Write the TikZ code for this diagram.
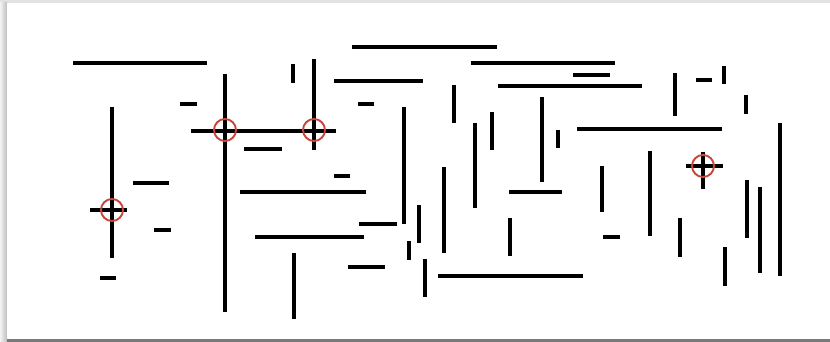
\documentclass[tikz,border=0pt]{standalone}
\usetikzlibrary{calc}
\definecolor{pgInk}{HTML}{000000}
\definecolor{pgMark}{HTML}{C8453A}
\definecolor{pgEdge}{HTML}{E2E2E2}
\definecolor{pgShade}{HTML}{BDBDBD}
\definecolor{pgFloor}{HTML}{7A7A7A}
\tikzset{pg/base/.style={x=1pt,y=-1pt,line cap=butt,line join=miter},
  pg/seg/.style={draw=pgInk,line width=3.2pt},
  pg/hit/.style={draw=pgMark,line width=1.9pt}}
\begin{document}
\begin{tikzpicture}[pg/base]
  \useasboundingbox (0,0) rectangle (830,342);
  % page on a grey desk, shadow to the left and below
  \fill[pgEdge] (0,0) rectangle (830,342);
  \shade[left color=pgEdge!40,right color=pgShade] (0,3) rectangle (7,342);
  \fill[pgFloor] (7,339) rectangle (830,342);
  \fill[white] (7,3) rectangle (830,339);
  % horizontal segments
  \foreach \y/\xa/\xb in {63/73/207,47/352/497,63/471/615,75/573/610,81/334/423,
    86/498/642,80/696/712,104/180/197,104/358/374,129/577/722,131/191/336,
    149/244/282,166/686/723,176/334/350,183/133/169,192/240/366,192/509/562,
    210/90/127,224/359/397,230/154/171,237/255/364,237/603/620,267/348/385,
    276/438/583,278/100/116}
    \draw[pg/seg] (\xa,\y)--(\xb,\y);
  % vertical segments
  \foreach \x/\ya/\yb in {112/107/258,225/74/312,293/64/83,314/59/150,294/253/319,
    404/107/224,409/241/260,419/205/243,425/259/297,444/167/253,454/85/123,
    475/123/208,492/112/150,510/218/256,542/97/182,558/130/148,602/166/212,
    650/151/236,675/73/116,680/218/257,703/152/189,724/66/84,725/247/286,
    746/95/114,747/180/238,760/187/273,780/123/276}
    \draw[pg/seg] (\x,\ya)--(\x,\yb);
  % crossings found
  \foreach \x/\y in {112/210,225/130,314/130,703/166}
    \draw[pg/hit] (\x,\y) circle[radius=11];
\end{tikzpicture}
\end{document}
